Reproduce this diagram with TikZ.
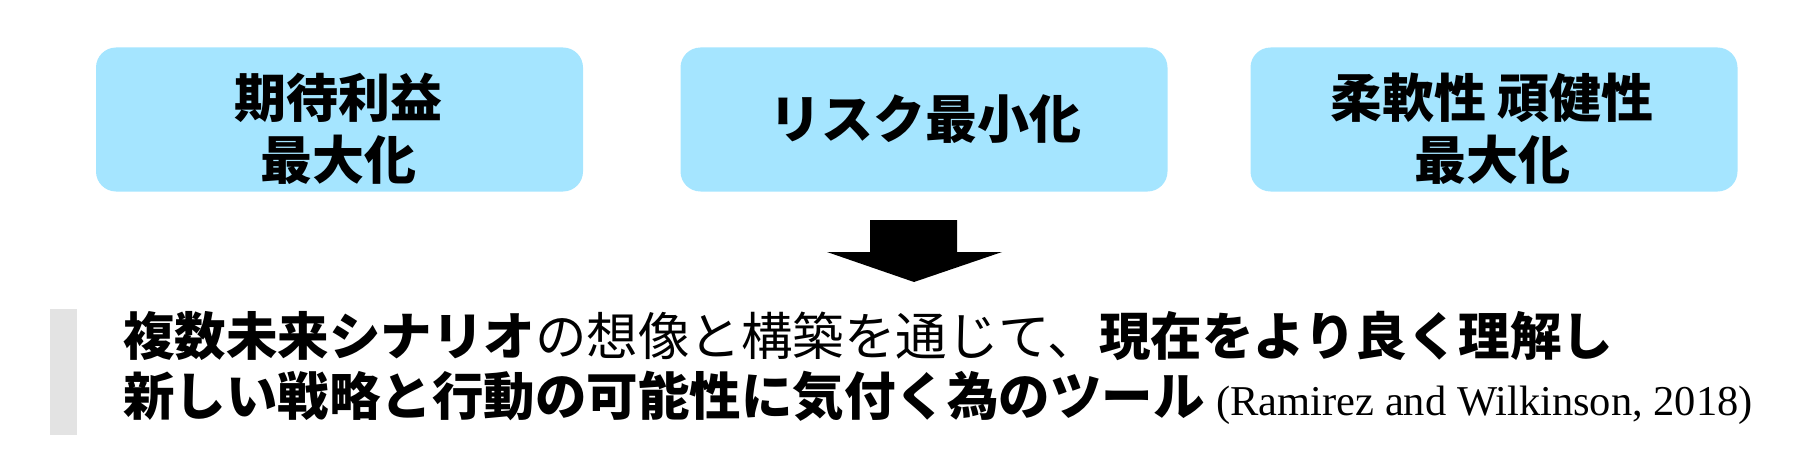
\documentclass[tikz,border=0pt]{standalone}
\usepackage{fontspec}
\setmainfont{Liberation Serif}
\newfontfamily\jp{Noto Sans CJK JP}
\definecolor{boxblue}{HTML}{A5E5FF}
\definecolor{bargray}{HTML}{E3E3E3}
\begin{document}
\begin{tikzpicture}[x=1pt,y=-1pt,
  topbox/.style={fill=boxblue, rounded corners=20pt, minimum width=487pt, minimum height=144pt, inner sep=0pt},
  boxtext/.style={align=center, inner sep=0pt, font=\jp\bfseries\fontsize{52}{62.5}\selectfont},
  bodyline/.style={anchor=base west, inner sep=0pt, font=\jp\fontsize{51.5}{60}\selectfont}]
\useasboundingbox (0,0) rectangle (1806,468);
\node[topbox] (b1) at (339.5,119.5) {};
\node[topbox] (b2) at (924,119.5) {};
\node[topbox] (b3) at (1494,119.5) {};
\node[boxtext] (t1) at (338,129) {期待利益\\最大化};
\node[boxtext] (t2) at (925,119) {リスク最小化};
\node[boxtext] (t3) at (1492,129) {柔軟性 頑健性\\最大化};
\fill (870,220) -- (957,220) -- (957,252) -- (1002,252) -- (914,282) -- (827,252) -- (870,252) -- cycle;
\fill[bargray] (50,309) rectangle (77,435);
\node[bodyline] (l1) at (123,355) {{\bfseries 複数未来シナリオ}の想像と構築を通じて、{\bfseries 現在をより良く理解し}};
\node[bodyline] (l2) at (123,415) {{\bfseries 新しい戦略と行動の可能性に気付く為のツール} {\rmfamily\fontsize{42.5}{50}\selectfont (Ramirez and Wilkinson, 2018)}};
\end{tikzpicture}
\end{document}
